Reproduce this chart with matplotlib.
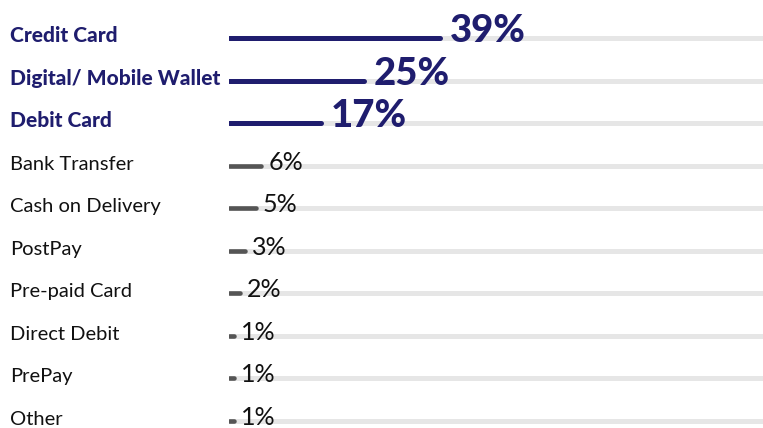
import matplotlib
matplotlib.use("Agg")
import matplotlib.pyplot as plt
from matplotlib import transforms

# data
methods = ["Credit Card", "Digital/ Mobile Wallet", "Debit Card", "Bank Transfer",
           "Cash on Delivery", "PostPay", "Pre-paid Card", "Direct Debit", "PrePay", "Other"]
shares = [39, 25, 17, 6, 5, 3, 2, 1, 1, 1]
highlight = [True, True, True, False, False, False, False, False, False, False]

NAVY = "#1f1d6e"
GREY = "#555555"
TRACK = "#e6e6e6"

W, H = 763, 428
x0 = 229          # pixel where bars start
px_per_pct = 5.4
row0, row_step = 38, 42.56

fig = plt.figure(figsize=(W / 100, H / 100), dpi=100)
ax = fig.add_axes([x0 / W, 0, (W - x0) / W, 1])
ax.set_xlim(0, (W - x0) / px_per_pct)
ax.set_ylim((H - row0) / row_step, -row0 / row_step)
ax.axis("off")

lab_tr = transforms.blended_transform_factory(fig.transFigure, ax.transData)

for i, (name, v, hl) in enumerate(zip(methods, shares, highlight)):
    ax.plot([0, 200], [i, i], color=TRACK, lw=3.6, solid_capstyle="butt", zorder=1)
    ax.plot([0, v], [i, i], color=NAVY if hl else GREY, lw=3.6 if hl else 3.3,
            solid_capstyle="round", zorder=2)

    y_txt = i + 4 / row_step
    if hl:
        ax.text(10 / W, y_txt, name, transform=lab_tr, family="Lato", weight="black",
                fontsize=15, color=NAVY, va="baseline", ha="left")
        tr = transforms.offset_copy(ax.transData, fig=fig, x=10, y=0, units="dots")
        ax.text(v, y_txt, f"{v}%", transform=tr, family="Lato", weight="black",
                fontsize=27.5, color=NAVY, va="baseline", ha="left")
    else:
        ax.text(10 / W, y_txt, name, transform=lab_tr, family="Lato",
                fontsize=14.5, color="#111111", va="baseline", ha="left")
        tr = transforms.offset_copy(ax.transData, fig=fig, x=7, y=0, units="dots")
        ax.text(v, y_txt, f"{v}%", transform=tr, family="Lato",
                fontsize=18, color="#111111", va="baseline", ha="left")

fig.savefig("out.png", dpi=100)
